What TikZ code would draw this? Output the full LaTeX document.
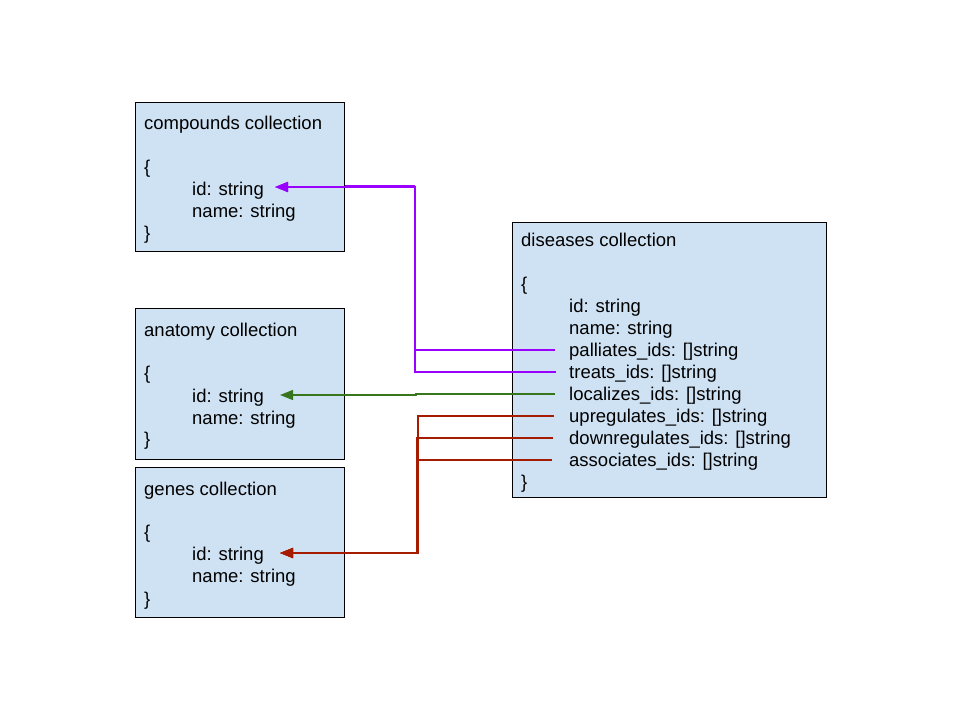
\documentclass[tikz,border=0pt]{standalone}
\usepackage{fontspec}
\setmainfont{Liberation Sans}
\usetikzlibrary{arrows.meta}
\definecolor{boxfill}{HTML}{CFE2F3}
\definecolor{purp}{HTML}{9900FF}
\definecolor{grn}{HTML}{38761D}
\definecolor{rd}{HTML}{A61C00}
\tikzset{
  coll/.style={draw=black, line width=0.9pt, fill=boxfill},
  txt/.style={anchor=west, inner sep=0pt, text height=13pt, text depth=4pt, font=\fontsize{18.5}{22}\selectfont},
  conn/.style={line width=1.6pt, -{Triangle[length=13pt,width=10pt]}},
}
\begin{document}
\begin{tikzpicture}[x=1pt,y=-1pt]
\useasboundingbox (0,0) rectangle (960,720);
% boxes
\draw[coll] (135,102) rectangle (344,251);
\draw[coll] (135,308) rectangle (344,459);
\draw[coll] (135,467) rectangle (344,617);
\draw[coll] (512,222) rectangle (826,497);
% compounds
\node[txt] (ct) at (144,125) {compounds collection};
\node[txt] (cob) at (144,169) {\{};
\node[txt] (cid) at (192,191) {id: string};
\node[txt] (cnm) at (192,213) {name: string};
\node[txt] (ccb) at (144,235) {\}};
% anatomy
\node[txt] (at) at (144,332) {anatomy collection};
\node[txt] (aob) at (144,375) {\{};
\node[txt] (aid) at (192,398) {id: string};
\node[txt] (anm) at (192,420) {name: string};
\node[txt] (acb) at (144,441) {\}};
% genes
\node[txt] (gt) at (144,491) {genes collection};
\node[txt] (gob) at (144,534) {\{};
\node[txt] (gid) at (192,556) {id: string};
\node[txt] (gnm) at (192,578) {name: string};
\node[txt] (gcb) at (144,601) {\}};
% diseases
\node[txt] (dt) at (521,242) {diseases collection};
\node[txt] (dob) at (521,286) {\{};
\node[txt] (did) at (569,308) {id: string};
\node[txt] (dnm) at (569,330) {name: string};
\node[txt] (dpal) at (569,352) {palliates\_ids: []string};
\node[txt] (dtre) at (569,374) {treats\_ids: []string};
\node[txt] (dloc) at (569,396) {localizes\_ids: []string};
\node[txt] (dup) at (569,418) {upregulates\_ids: []string};
\node[txt] (ddown) at (569,440) {downregulates\_ids: []string};
\node[txt] (dass) at (569,462) {associates\_ids: []string};
\node[txt] (dcb) at (521,484) {\}};
% purple connectors
\draw[conn, purp] ([xshift=-14pt]dpal.west |- 0,350) -- (415,350) -- (415,187) -- ([xshift=11pt]cid.east |- 0,187);
\draw[conn, purp] ([xshift=-13pt]dtre.west |- 0,372) -- (415,372) -- (415,187) -- ([xshift=11pt]cid.east |- 0,187);
\draw[purp, line width=1.4pt] (415,185.5) -- (345,185.5);
% green connector
\draw[conn, grn, line width=1.3pt] ([xshift=-14pt]dloc.west |- 0,394) -- (416,394) -- (416,395) -- ([xshift=16pt]aid.east |- 0,395);
% red connectors
\draw[conn, rd] ([xshift=-15pt]dup.west |- 0,416) -- (418,416) -- (418,553) -- ([xshift=16pt]gid.east |- 0,553);
\draw[conn, rd] ([xshift=-16pt]ddown.west |- 0,438) -- (417,438) -- (417,553) -- ([xshift=16pt]gid.east |- 0,553);
\draw[conn, rd] ([xshift=-17pt]dass.west |- 0,460) -- (417,460) -- (417,553) -- ([xshift=16pt]gid.east |- 0,553);
\draw[rd, line width=1.4pt] (416.5,553.5) -- (345,553.5);
\end{tikzpicture}
\end{document}
